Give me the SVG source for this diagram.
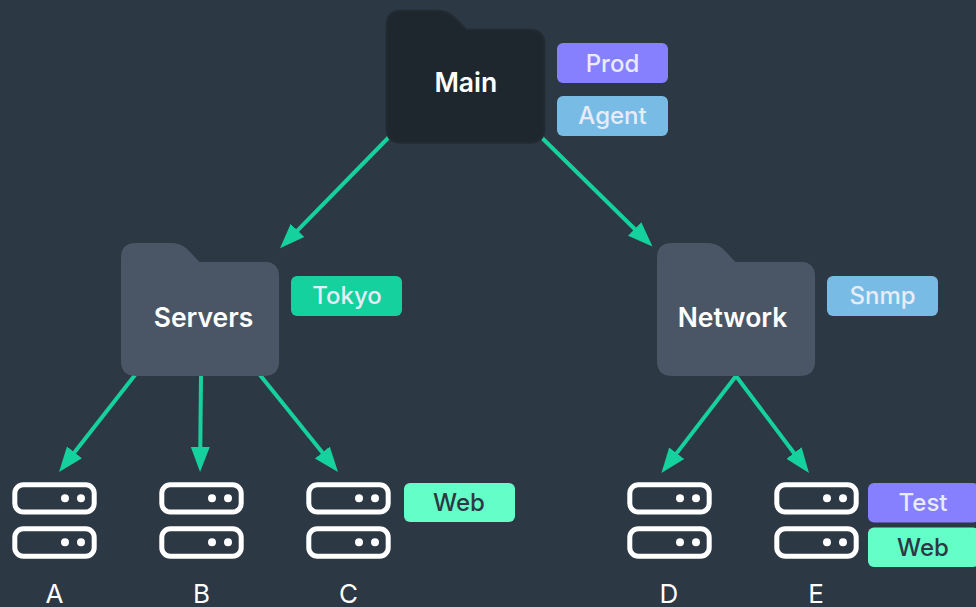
<svg xmlns="http://www.w3.org/2000/svg" width="976" height="607" viewBox="0 0 976 607">
<style>
text{font-family:Inter,"Noto Sans","Liberation Sans",sans-serif;text-anchor:middle}
.conn{stroke:#15d19d;stroke-width:4;fill:none;marker-end:url(#ah)}
.fl{font-size:26.500px;font-weight:600;fill:#fff}
.tag{font-size:24px;font-weight:450;fill:#e8ecf8}
.tagd{font-size:24px;font-weight:450;fill:#2d3845}
.srv{fill:none;stroke:#fff;stroke-width:5}
.dot{fill:#fff}
.lab{font-size:26px;fill:#fff}
</style>
<defs>
<marker id="ah" markerUnits="userSpaceOnUse" markerWidth="30" markerHeight="26" refX="10" refY="13" orient="auto"><path d="M0 3.500L25 13L0 22.500Z" fill="#15d19d"/></marker>
<path id="folder" d="M14 0H50Q60 0 67 7L78 19H144Q158 19 158 33V119Q158 133 144 133H14Q0 133 0 119V14Q0 0 14 0Z"/>
<g id="server"><rect class="srv" x="14.800" y="484.800" width="79.400" height="27.200" rx="8.500"/><rect class="srv" x="14.800" y="528.700" width="79.400" height="27.500" rx="8.500"/><circle class="dot" cx="65" cy="498.300" r="4"/><circle class="dot" cx="81" cy="498.300" r="4"/><circle class="dot" cx="65" cy="542.300" r="4"/><circle class="dot" cx="81" cy="542.300" r="4"/></g>
</defs>
<rect width="976" height="607" fill="#2d3845"/>
<g id="connectors">
<path class="conn" d="M391 135L290.500 237.600"/>
<path class="conn" d="M535 131L641.800 236"/>
<path class="conn" d="M135 375L68.300 460.200"/>
<path class="conn" d="M201 376L200.200 457"/>
<path class="conn" d="M260 375L328.600 460.300"/>
<path class="conn" d="M736 376L670.600 461.100"/>
<path class="conn" d="M736 376L800 461"/>
</g>
<g id="main"><path d="M16 1H52Q62 1 69 8L81 20H144Q159 20 159 35V118Q159 133 144 133H16Q1 133 1 118V16Q1 1 16 1Z" transform="translate(385.500 9.800)" fill="#1f272e" stroke="#222b32" stroke-width="2"/><text class="fl" x="465.800" y="92">Main</text></g>
<g id="tag-prod"><rect x="557" y="43" width="111" height="40" rx="6" fill="#8680ff"/><text class="tag" x="612.500" y="72">Prod</text></g>
<g id="tag-agent"><rect x="557" y="96" width="111" height="40" rx="6" fill="#78bce6"/><text class="tag" x="612.500" y="124">Agent</text></g>
<g id="servers"><use href="#folder" transform="translate(121.500 243.500) scale(.994 .992)" fill="#4a5665" stroke="#4d5866" stroke-width="1"/><text class="fl" x="203.500" y="327">Servers</text></g>
<g id="tag-tokyo"><rect x="291" y="276" width="111" height="40" rx="6" fill="#15d19d"/><text class="tag" x="347" y="304">Tokyo</text></g>
<g id="network"><use href="#folder" transform="translate(657.500 243.500) scale(.994 .992)" fill="#4a5665" stroke="#4d5866" stroke-width="1"/><text class="fl" x="732.500" y="327">Network</text></g>
<g id="tag-snmp"><rect x="827" y="276" width="111" height="40" rx="6" fill="#78bce6"/><text class="tag" x="882.500" y="304">Snmp</text></g>
<g id="server-a"><use href="#server"/><text class="lab" x="54.500" y="603">A</text></g>
<g id="server-b"><use href="#server" x="147"/><text class="lab" x="201.500" y="603">B</text></g>
<g id="server-c"><use href="#server" x="294"/><text class="lab" x="348.500" y="603">C</text></g>
<g id="tag-web-c"><rect x="404" y="483" width="111" height="39" rx="6" fill="#64ffc8"/><text class="tagd" x="459" y="511">Web</text></g>
<g id="server-d"><use href="#server" x="615"/><text class="lab" x="669" y="603">D</text></g>
<g id="server-e"><use href="#server" x="762"/><text class="lab" x="816" y="603">E</text></g>
<g id="tag-test"><rect x="868" y="483" width="111" height="39.500" rx="6" fill="#8680ff"/><text class="tag" x="923" y="511">Test</text></g>
<g id="tag-web-e"><rect x="868" y="527.500" width="111" height="39.500" rx="6" fill="#64ffc8"/><text class="tagd" x="923" y="556">Web</text></g>
</svg>
